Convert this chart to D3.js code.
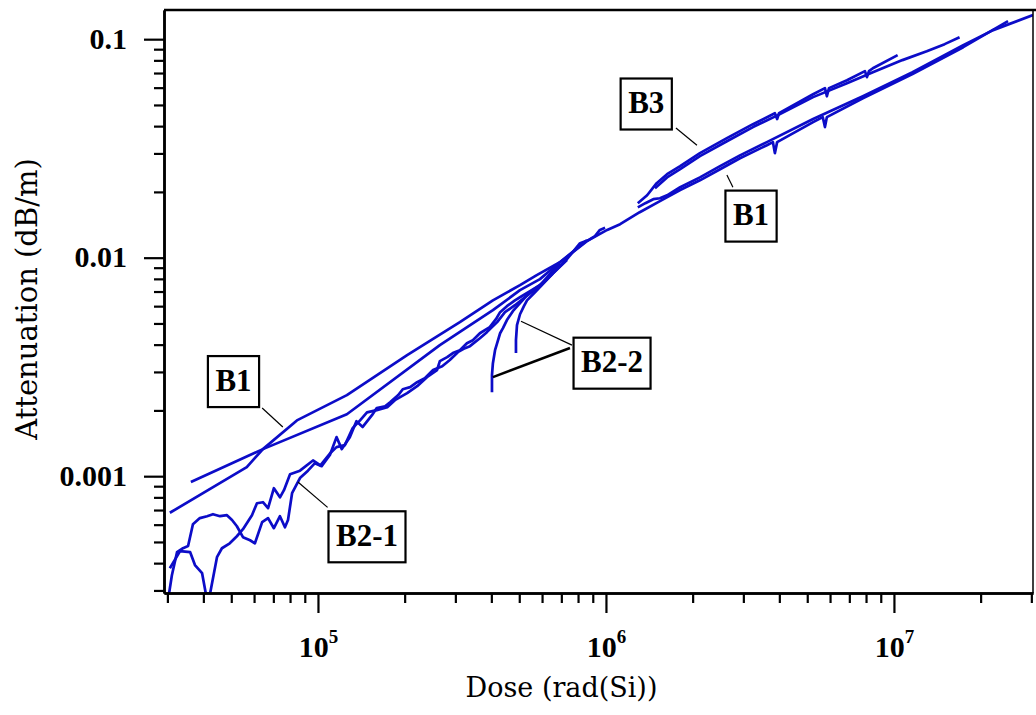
<!DOCTYPE html>
<meta charset="utf-8">
<html>
<body>
<svg width="1036" height="715"></svg>
<script src="https://d3js.org/d3.v7.min.js"></script>
<script>

// dose in rad(Si), attenuation in dB/m

// B1, low dose run, the shallow line that carries on to high dose
var b1aDose = [3.62e4, 6.44e4, 1.26e5, 2.65e5, 4.05e5, 5.03e5, 5.90e5, 6.92e5, 8.59e5, 1.01e6, 1.12e6, 1.31e6, 1.54e6, 1.81e6, 2.12e6, 2.49e6, 2.92e6, 3.62e6, 3.80e6, 3.86e6, 3.93e6, 5.24e6, 5.66e6, 5.76e6, 5.85e6, 7.80e6, 1.16e7, 1.74e7, 2.49e7];
var b1aAtt = [0.00094, 0.00133, 0.00192, 0.00398, 0.00575, 0.00710, 0.00798, 0.00953, 0.0119, 0.0134, 0.01423, 0.01615, 0.01814, 0.0204, 0.0226, 0.0254, 0.02853, 0.0327, 0.0338, 0.0301, 0.0338, 0.0417, 0.0440, 0.0396, 0.0440, 0.0537, 0.0692, 0.0919, 0.121];

// B1, second low dose line (steeper start)
var b1bDose = [3.06e4, 5.66e4, 6.44e4, 8.45e4, 1.26e5, 2.04e5, 3.11e5, 4.05e5, 5.03e5, 5.75e5, 6.92e5, 8.59e5];
var b1bAtt = [0.00068, 0.00110, 0.00133, 0.00180, 0.00235, 0.00358, 0.00507, 0.00638, 0.00749, 0.00832, 0.00953, 0.0120];

// B1, high dose run
var b1cDose = [1.29e6, 1.37e6, 1.46e6, 1.54e6, 1.63e6, 1.81e6, 2.12e6, 2.49e6, 2.92e6, 3.62e6, 5.24e6, 7.80e6, 1.16e7, 1.74e7, 2.21e7, 3.04e7];
var b1cAtt = [0.0170, 0.01776, 0.01852, 0.0187, 0.0193, 0.0210, 0.0233, 0.02623, 0.0294, 0.0338, 0.0431, 0.0548, 0.0706, 0.0939, 0.110, 0.129];

// B3, two runs
var b3aDose = [1.29e6, 1.39e6, 1.50e6, 1.63e6, 1.81e6, 2.12e6, 2.63e6, 3.24e6, 3.86e6, 3.93e6, 3.99e6, 5.24e6, 5.76e6, 5.85e6, 5.95e6, 6.87e6, 7.93e6, 8.06e6, 8.19e6, 8.45e6, 1.03e7];
var b3aAtt = [0.01776, 0.0193, 0.02193, 0.0241, 0.02623, 0.0301, 0.03524, 0.04083, 0.0458, 0.0431, 0.0458, 0.0560, 0.0597, 0.0548, 0.0597, 0.0649, 0.0714, 0.0670, 0.0714, 0.0736, 0.0845];
var b3bDose = [1.48e6, 1.63e6, 1.81e6, 2.12e6, 2.63e6, 3.24e6, 4.02e6, 5.24e6, 6.87e6, 8.45e6, 1.07e7, 1.30e7, 1.50e7, 1.69e7];
var b3bAtt = [0.0208, 0.0233, 0.0254, 0.02914, 0.0341, 0.0396, 0.0454, 0.0543, 0.0629, 0.0706, 0.0802, 0.0881, 0.0949, 0.102];

// B2-1, two noisy runs
var b21aDose = [3.04e4, 3.11e4, 3.24e4, 3.40e4, 3.54e4, 3.68e4, 3.89e4, 4.12e4, 4.32e4, 4.57e4,
    4.83e4, 5.03e4, 5.23e4, 5.49e4, 5.81e4, 6.04e4, 6.40e4, 6.71e4, 7.03e4, 7.38e4,
    7.68e4, 7.87e4, 8.13e4, 8.66e4, 9.23e4, 9.76e4, 1.03e5, 1.10e5, 1.16e5, 1.21e5,
    1.29e5, 1.36e5, 1.43e5, 1.54e5, 1.60e5, 1.71e5, 1.78e5, 1.90e5, 1.97e5, 2.09e5,
    2.21e5, 2.35e5, 2.51e5, 2.70e5, 2.87e5, 3.06e5, 3.24e5, 3.37e5, 3.65e5, 3.86e5,
    4.19e5, 4.46e5, 4.83e5, 5.23e5, 5.90e5, 6.55e5, 7.32e5, 8.13e5, 8.66e5, 9.16e5,
    9.53e5, 9.93e5];
var b21aAtt = [0.00029, 0.000352, 0.000449, 0.000468, 0.000479, 0.000603, 0.000643, 0.000656, 0.000670, 0.000656,
    0.000663, 0.000630, 0.000590, 0.000526, 0.000509, 0.000493, 0.000616, 0.000643, 0.000578, 0.000656,
    0.000584, 0.000630, 0.000836, 0.000980, 0.00106, 0.001147, 0.001111, 0.00125, 0.001509, 0.00133,
    0.001509, 0.001786, 0.00168, 0.001902, 0.00205, 0.00209, 0.00218, 0.00235, 0.00250, 0.002555,
    0.002692, 0.00281, 0.00306, 0.003187, 0.00340, 0.003694, 0.003853, 0.003936, 0.004281, 0.004562,
    0.00507, 0.005631, 0.00606, 0.00659, 0.007408, 0.00849, 0.00984, 0.01165, 0.0120, 0.01254,
    0.0134, 0.0137];
var b21bDose = [3.06e4, 3.32e4, 3.60e4, 3.74e4, 3.96e4, 4.08e4, 4.22e4, 4.46e4, 4.64e4, 4.94e4,
    5.23e4, 5.49e4, 5.90e4, 6.14e4, 6.44e4, 6.71e4, 7.03e4, 7.38e4, 7.62e4, 8.00e4,
    8.66e4, 9.61e4, 1.02e5, 1.10e5, 1.16e5, 1.24e5, 1.32e5, 1.40e5, 1.48e5, 1.60e5,
    1.74e5, 1.85e5, 2.04e5, 2.21e5, 2.39e5, 2.59e5, 2.65e5, 2.81e5, 2.94e5, 3.11e5,
    3.29e5, 3.45e5, 3.65e5, 3.95e5, 4.15e5, 4.29e5, 4.53e5, 4.83e5, 5.03e5, 5.45e5,
    5.90e5, 6.92e5];
var b21bAtt = [0.000379, 0.000454, 0.000449, 0.000392, 0.00036, 0.00029, 0.00029, 0.000426, 0.000468, 0.000493,
    0.000531, 0.000572, 0.000663, 0.000752, 0.00076, 0.000714, 0.000881, 0.00080, 0.000863, 0.001021,
    0.00106, 0.00118, 0.00112, 0.00127, 0.001358, 0.001387, 0.001659, 0.00180, 0.00196, 0.002005,
    0.00207, 0.002228, 0.00240, 0.002582, 0.00284, 0.00306, 0.00336, 0.003505, 0.00366, 0.003773,
    0.00406, 0.004192, 0.00451, 0.00481, 0.00523, 0.005631, 0.0060, 0.00638, 0.00659, 0.00703,
    0.00749, 0.00944];

// B2-2, two runs that start with a drop
var b22aDose = [4.02e5, 4.02e5, 4.05e5, 4.12e5, 4.19e5, 4.29e5, 4.39e5, 4.53e5, 4.75e5, 5.03e5, 5.45e5, 6.14e5, 6.92e5];
var b22aAtt = [0.002424, 0.0029, 0.00329, 0.003773, 0.00406, 0.00451, 0.004757, 0.00518, 0.00569, 0.00619, 0.00695, 0.0078, 0.00934];
var b22bDose = [4.87e5, 4.87e5, 4.91e5, 5.03e5, 5.19e5, 5.32e5, 5.67e5, 5.90e5, 6.55e5, 7.32e5];
var b22bAtt = [0.00366, 0.004192, 0.00491, 0.00551, 0.0060, 0.00638, 0.00695, 0.00733, 0.00849, 0.00975];

// ticks
var xMajor = [1e5, 1e6, 1e7];
var xMajorExp = ["5", "6", "7"];
var xMinor = [3e4, 4e4, 5e4, 6e4, 7e4, 8e4, 9e4, 2e5, 3e5, 4e5, 5e5, 6e5, 7e5, 8e5, 9e5,
    2e6, 3e6, 4e6, 5e6, 6e6, 7e6, 8e6, 9e6, 2e7, 3e7];
var yMajor = [0.001, 0.01, 0.1];
var yMajorLabels = ["0.001", "0.01", "0.1"];
var yMinor = [0.0003, 0.0004, 0.0005, 0.0006, 0.0007, 0.0008, 0.0009,
    0.002, 0.003, 0.004, 0.005, 0.006, 0.007, 0.008, 0.009,
    0.02, 0.03, 0.04, 0.05, 0.06, 0.07, 0.08, 0.09];

// boxed labels and their leader lines
var labelText = ["B1", "B2-1", "B2-2", "B3", "B1"];
var labelDose = [5.09e4, 1.48e5, 1.05e6, 1.38e6, 3.19e6];
var labelAtt = [0.00271, 0.000528, 0.00329, 0.0505, 0.0155];
var leaderDose0 = [6.40e4, 8.52e4, 5.07e5, 4.05e5, 1.75e6, 2.63e6];
var leaderAtt0 = [0.00205, 0.00094, 0.00512, 0.00284, 0.0392, 0.0239];
var leaderDose1 = [7.55e4, 1.08e5, 7.62e5, 7.50e5, 2.07e6, 2.76e6];
var leaderAtt1 = [0.00168, 0.00072, 0.00398, 0.00386, 0.0327, 0.0210];

var svg = d3.select("svg"),
    margin = {top: 10, right: 3, bottom: 122, left: 164},
    width = +svg.attr("width") - margin.left - margin.right,
    height = +svg.attr("height") - margin.top - margin.bottom;

var x = d3.scaleLog().domain([2.92e4, 3.04e7]).range([0, width]);
var y = d3.scaleLog().domain([2.92e-4, 0.136]).range([height, 0]);

var g = svg.append("g")
    .attr("transform", "translate(" + margin.left + "," + margin.top + ")");

g.append("clipPath").attr("id", "plot")
    .append("rect").attr("width", width).attr("height", height);

var blue = "#0c0cc8";
var line = d3.line()
    .x(function(d) { return x(d[0]); })
    .y(function(d) { return y(d[1]); });

function pairs(a, b) { return a.map(function(v, i) { return [v, b[i]]; }); }

var series = [
    pairs(b21aDose, b21aAtt), pairs(b21bDose, b21bAtt),
    pairs(b22aDose, b22aAtt), pairs(b22bDose, b22bAtt),
    pairs(b1bDose, b1bAtt), pairs(b1aDose, b1aAtt), pairs(b1cDose, b1cAtt),
    pairs(b3aDose, b3aAtt), pairs(b3bDose, b3bAtt)
];

g.append("g").attr("clip-path", "url(#plot)")
    .selectAll("path").data(series)
    .enter().append("path")
    .attr("d", line)
    .attr("fill", "none")
    .attr("stroke", blue)
    .attr("stroke-width", 2.7)
    .attr("stroke-linejoin", "round");

// frame (top and right)
g.append("line").attr("x1", 0).attr("x2", width + margin.right).attr("y1", 0).attr("y2", 0)
    .attr("stroke", "#000").attr("stroke-width", 2.5);
g.append("line").attr("x1", width).attr("x2", width).attr("y1", 0).attr("y2", height)
    .attr("stroke", "#000").attr("stroke-width", 1.5);

// axes
var xMajAxis = g.append("g").attr("transform", "translate(0," + height + ")")
    .call(d3.axisBottom(x).tickValues(xMajor).tickSize(20).tickSizeOuter(0).tickFormat(""));
var xMinAxis = g.append("g").attr("transform", "translate(0," + height + ")")
    .call(d3.axisBottom(x).tickValues(xMinor).tickSize(10).tickSizeOuter(0).tickFormat(""));
var yMajAxis = g.append("g")
    .call(d3.axisLeft(y).tickValues(yMajor).tickSize(20).tickSizeOuter(0)
        .tickFormat(function(d, i) { return yMajorLabels[i]; }));
var yMinAxis = g.append("g")
    .call(d3.axisLeft(y).tickValues(yMinor).tickSize(10).tickSizeOuter(0).tickFormat(""));

g.selectAll(".domain").attr("stroke-width", 2.5);
g.selectAll(".tick line").attr("stroke-width", 2.2);

yMajAxis.selectAll(".tick text")
    .attr("x", -37)
    .attr("dy", "0.3em")
    .style("font-family", "'Liberation Serif', serif")
    .style("font-weight", "bold")
    .style("font-size", "30px")
    .attr("fill", "#000");

// x major labels 10^n
xMajAxis.selectAll(".tick").each(function(d, i) {
    var t = d3.select(this).append("text")
        .attr("y", 64)
        .attr("text-anchor", "middle")
        .attr("fill", "#000")
        .style("font-family", "'Liberation Serif', serif")
        .style("font-weight", "bold")
        .style("font-size", "30px");
    t.append("tspan").text("10");
    t.append("tspan").attr("dy", -14).style("font-size", "19px").text(xMajorExp[i]);
});

// axis titles
g.append("text")
    .attr("x", width / 2 - 37)
    .attr("y", height + 104)
    .attr("text-anchor", "middle")
    .style("font-family", "'DejaVu Serif', serif")
    .style("font-size", "27px")
    .text("Dose (rad(Si))");

g.append("text")
    .attr("transform", "translate(" + (37 - margin.left) + "," + 289 + ") rotate(-90)")
    .attr("text-anchor", "middle")
    .style("font-family", "'DejaVu Serif', serif")
    .style("font-size", "29px")
    .text("Attenuation (dB/m)");

// leader lines
g.selectAll(".leader").data(leaderDose0)
    .enter().append("line")
    .attr("class", "leader")
    .attr("x1", function(d, i) { return x(leaderDose0[i]); })
    .attr("y1", function(d, i) { return y(leaderAtt0[i]); })
    .attr("x2", function(d, i) { return x(leaderDose1[i]); })
    .attr("y2", function(d, i) { return y(leaderAtt1[i]); })
    .attr("stroke", "#000")
    .attr("stroke-width", function(d, i) { return i == 3 ? 2.5 : 1.2; });

// boxed labels
labelText.forEach(function(s, i) {
    var cx = x(labelDose[i]), cy = y(labelAtt[i]);
    var lg = g.append("g");
    var r = lg.append("rect");
    var t = lg.append("text")
        .attr("x", cx).attr("y", cy + 9)
        .attr("text-anchor", "middle")
        .style("font-family", "'Liberation Serif', serif")
        .style("font-weight", "bold")
        .style("font-size", "31px")
        .text(s);
    var w = t.node().getBBox().width + 15;
    r.attr("x", cx - w / 2).attr("y", cy - 25.5)
        .attr("width", w).attr("height", 51)
        .attr("fill", "#fff")
        .attr("stroke", "#000")
        .attr("stroke-width", 2.2);
});

</script>
</body>
</html>

<style>
    body { margin: 0; background: #fff; }
</style>
